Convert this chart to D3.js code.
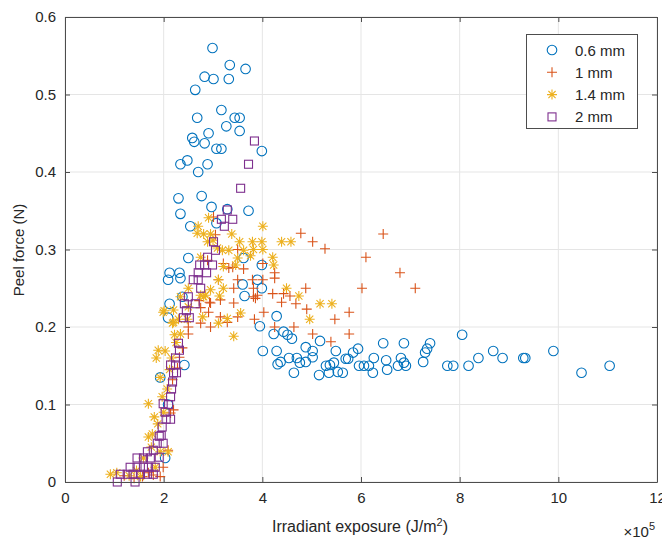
<!DOCTYPE html>
<html><head><meta charset="utf-8">
<script src="https://cdn.jsdelivr.net/npm/d3@7"></script>
<style>body{margin:0;background:#fff}svg{display:block}text{font-family:"Liberation Sans",Arial,sans-serif}</style>
</head><body><svg id="c" width="662" height="541"></svg>
<script>
// x values in units of 1e5 J/m^2, y in N
const xTicks = [0,2,4,6,8,10,12];
const yTicks = [0,0.1,0.2,0.3,0.4,0.5,0.6];
const seriesNames = ["0.6 mm","1 mm","1.4 mm","2 mm"];
const seriesColors = ["#0072BD","#D95319","#EDB120","#7E2F8E"];

const d06 = [[2.99,0.560],[3.34,0.538],[3.66,0.533],[2.83,0.523],[3.01,0.520],[3.32,0.520],[2.64,0.506],[3.17,0.480],[2.68,0.470],[3.44,0.470],[3.54,0.470],[3.27,0.459],[3.54,0.453],[2.91,0.450],[2.58,0.444],[2.62,0.439],[2.83,0.437],[3.07,0.430],[3.17,0.430],[3.99,0.427],[2.48,0.415],[2.34,0.410],[2.89,0.410],[2.70,0.400],[2.30,0.366],[2.77,0.369],
[2.34,0.346],[2.97,0.355],[3.29,0.352],[3.72,0.350],[2.54,0.330],[3.07,0.334],[2.50,0.289],[3.62,0.289],[3.99,0.280],[2.12,0.270],[2.32,0.270],[2.09,0.261],[2.34,0.263],[3.60,0.255],[3.90,0.261],[3.99,0.250],[3.64,0.240],[2.38,0.239],[2.12,0.230],[4.29,0.214],[2.09,0.212],[3.95,0.201],
[2.42,0.151],[1.93,0.135],[2.03,0.031],[2.09,0.100],
[4.23,0.191],[4.43,0.194],[4.51,0.190],[4.60,0.185],[5.17,0.182],[6.45,0.179],[6.87,0.179],[7.40,0.179],[7.34,0.172],[7.30,0.167],
[4.01,0.169],[4.29,0.169],[4.88,0.174],[5.02,0.169],[5.49,0.169],[5.94,0.172],[5.84,0.167],
[4.31,0.152],[4.37,0.155],[4.54,0.160],[4.70,0.160],[4.76,0.154],[4.88,0.155],[5.02,0.161],[5.29,0.150],[5.37,0.151],[5.45,0.154],[5.69,0.159],[5.74,0.159],[5.96,0.150],[6.06,0.150],[6.16,0.150],[6.26,0.160],[6.51,0.157],[6.75,0.150],[6.81,0.160],[6.87,0.154],[6.91,0.150],[7.26,0.155],[7.75,0.150],[7.87,0.150],
[4.64,0.141],[5.15,0.138],[5.35,0.141],[5.53,0.142],[5.63,0.141],[6.24,0.141],[6.53,0.145],
[8.05,0.190],[8.18,0.150],[8.38,0.160],[8.68,0.169],[8.87,0.160],[9.29,0.160],[9.33,0.160],[9.90,0.169],[10.47,0.141],[11.04,0.150]];

const d10 = [[4.78,0.321],[5.02,0.310],[5.27,0.301],[6.45,0.320],[6.10,0.290],[6.79,0.270],[7.10,0.250],[6.02,0.250],[4.88,0.250],[4.25,0.270],[4.25,0.263],[4.01,0.282],[4.01,0.261],[3.82,0.250],[3.82,0.239],[4.21,0.243],[4.43,0.243],[4.56,0.240],[4.39,0.232],[4.68,0.230],[4.90,0.223],[4.03,0.219],[3.84,0.210],[4.25,0.200],[4.64,0.200],[5.47,0.210],[5.76,0.219],[5.02,0.191],[5.39,0.181],[5.76,0.191],
[3.01,0.342],[3.05,0.319],[3.50,0.300],[3.82,0.300],[2.89,0.286],[3.21,0.282],[3.32,0.276],[3.62,0.275],[3.50,0.261],[3.80,0.261],[3.11,0.261],[3.42,0.250],[3.90,0.241],[2.95,0.231],[3.15,0.235],[3.42,0.231],[3.86,0.237],[2.75,0.225],[2.91,0.219],[3.15,0.213],[3.50,0.213],[2.75,0.205],[2.50,0.200],[2.95,0.200],[3.29,0.206],
[2.72,0.234],[2.93,0.232],[3.40,0.277],
[2.50,0.191],[2.38,0.173],[2.32,0.161],[2.28,0.147],[2.18,0.132],[2.20,0.093],[2.14,0.089],[2.09,0.041],[1.99,0.019],[1.79,0.009],[1.69,0.012],[1.57,0.007],[1.93,0.007],[1.40,0.005],[1.20,0.008]];

const d14 = [[4.01,0.330],[3.80,0.310],[3.99,0.310],[4.39,0.310],[4.58,0.310],[3.82,0.300],[4.01,0.300],[4.21,0.290],[4.23,0.280],[4.49,0.250],[4.74,0.240],[5.17,0.230],[5.41,0.230],[4.96,0.210],
[2.91,0.341],[2.70,0.330],[2.68,0.321],[2.81,0.320],[2.95,0.320],[3.38,0.320],[2.89,0.310],[3.54,0.310],[3.00,0.312],[3.19,0.299],[3.32,0.299],[3.62,0.299],[3.09,0.302],[2.75,0.290],[3.50,0.289],[3.76,0.292],[3.46,0.280],[3.21,0.278],[3.11,0.261],[2.50,0.250],[2.95,0.248],[3.21,0.250],[2.75,0.241],[3.13,0.240],[2.85,0.241],[2.34,0.239],[2.81,0.239],[2.01,0.221],[1.99,0.219],[2.20,0.222],[2.50,0.226],[2.20,0.206],[2.48,0.210],[2.30,0.210],[2.18,0.205],[3.29,0.211],[3.56,0.218],[3.11,0.205],[2.79,0.213],[3.42,0.188],
[2.22,0.190],[2.34,0.191],[1.89,0.170],[2.03,0.169],[1.85,0.160],[2.16,0.160],[1.93,0.135],[2.07,0.120],[1.97,0.110],[1.69,0.101],[1.81,0.084],[1.77,0.062],[1.69,0.058],[2.09,0.039],[0.92,0.010],[1.53,0.007],[1.83,0.019],[1.59,0.031],[1.93,0.039],[1.05,0.012],[1.30,0.008],[1.45,0.015],[1.75,0.045],[1.88,0.075],[2.00,0.090],[2.12,0.145],[2.25,0.180]];

const d20 = [[3.84,0.440],[3.72,0.410],[3.56,0.379],[3.29,0.351],[3.17,0.339],[3.40,0.339],[3.23,0.330],[3.01,0.310],[3.05,0.299],[2.89,0.290],[2.73,0.280],[2.83,0.280],[2.99,0.280],[2.70,0.270],[2.87,0.270],[2.60,0.261],[2.70,0.261],[2.75,0.250],[2.50,0.239],[2.42,0.230],[2.64,0.230],[2.46,0.221],[2.40,0.212],[2.52,0.212],
[2.30,0.179],[2.32,0.170],[2.14,0.151],[2.24,0.151],[2.20,0.141],[2.26,0.141],[2.18,0.129],[2.14,0.110],[1.99,0.101],[2.03,0.090],[2.14,0.081],[2.05,0.081],[1.97,0.071],[1.91,0.059],[1.87,0.050],[1.99,0.050],[1.79,0.041],[1.67,0.039],[1.91,0.032],[1.46,0.031],[1.59,0.031],[1.73,0.031],[1.32,0.019],[1.46,0.019],[1.59,0.019],[1.69,0.019],[1.83,0.019],[1.12,0.010],[1.26,0.010],[1.38,0.010],[1.53,0.010],[1.67,0.010],[1.79,0.010],[1.06,0.000],[1.42,0.000],[2.10,0.100],[2.16,0.120],[2.24,0.160],[1.95,0.060]];

const allData = [d06,d10,d14,d20];

const L=65, R=657, T=17, B=482;
const svg = d3.select("#c");
const x = d3.scaleLinear().domain([0,12]).range([L,R]);
const y = d3.scaleLinear().domain([0,0.6]).range([B,T]);

// grid
const g = svg.append("g");
g.selectAll(".gx").data(xTicks).join("line").attr("x1",d=>x(d)).attr("x2",d=>x(d)).attr("y1",T).attr("y2",B).attr("stroke","#e5e5e5").attr("stroke-width",1);
g.selectAll(".gy").data(yTicks).join("line").attr("y1",d=>y(d)).attr("y2",d=>y(d)).attr("x1",L).attr("x2",R).attr("stroke","#e5e5e5").attr("stroke-width",1);

// markers
const sym = {
  circle: (sel)=>sel.append("circle").attr("r",4.8).attr("fill","none"),
  plus: (sel)=>sel.append("path").attr("d","M-5,0H5M0,-5V5").attr("fill","none"),
  star: (sel)=>sel.append("path").attr("d","M-5,0H5M0,-5V5M-3.6,-3.6L3.6,3.6M-3.6,3.6L3.6,-3.6").attr("fill","none"),
  square: (sel)=>sel.append("rect").attr("x",-4).attr("y",-4).attr("width",8).attr("height",8).attr("fill","none")
};
const symKeys = ["circle","plus","star","square"];

allData.forEach((data,i)=>{
  const gs = svg.append("g").attr("stroke",seriesColors[i]).attr("stroke-width",1.1);
  data.forEach(d=>{
    const p = gs.append("g").attr("transform",`translate(${x(d[0])},${y(d[1])})`);
    sym[symKeys[i]](p);
  });
});

// axes (box with inward ticks)
const axCol = "#4d4d4d";
const xb = svg.append("g").attr("transform",`translate(0,${B})`).call(d3.axisBottom(x).tickValues(xTicks).tickSizeInner(-5).tickSizeOuter(0).tickPadding(10));
const xt = svg.append("g").attr("transform",`translate(0,${T})`).call(d3.axisTop(x).tickValues(xTicks).tickSizeInner(-5).tickSizeOuter(0).tickFormat(""));
const yl = svg.append("g").attr("transform",`translate(${L},0)`).call(d3.axisLeft(y).tickValues(yTicks).tickSizeInner(-5).tickSizeOuter(0).tickPadding(9).tickFormat(d=>d===0?"0":d3.format(".1f")(d)));
const yr = svg.append("g").attr("transform",`translate(${R},0)`).call(d3.axisRight(y).tickValues(yTicks).tickSizeInner(-5).tickSizeOuter(0).tickFormat(""));
[xb,xt,yl,yr].forEach(a=>{
  a.select(".domain").attr("stroke",axCol);
  a.selectAll(".tick line").attr("stroke",axCol);
  a.selectAll(".tick text").attr("fill","#262626").style("font-size","15px").style("font-family","'Liberation Sans',Arial,sans-serif");
});

// axis labels
const xl = svg.append("text").attr("x",360).attr("y",532).attr("text-anchor","middle").attr("fill","#262626").style("font-size","16px");
xl.append("tspan").text("Irradiant exposure (J/m");
xl.append("tspan").text("2").attr("dy",-6).style("font-size","11px");
xl.append("tspan").text(")").attr("dy",6);
svg.append("text").attr("transform","translate(24,250) rotate(-90)").attr("text-anchor","middle").attr("fill","#262626").style("font-size","15px").text("Peel force (N)");
const ex = svg.append("text").attr("x",655).attr("y",537).attr("text-anchor","end").attr("fill","#262626").style("font-size","15px");
ex.append("tspan").text("\u00d710");
ex.append("tspan").text("5").attr("dy",-7).style("font-size","11px");

// legend
const lg = svg.append("g");
lg.append("rect").attr("x",526.5).attr("y",34.5).attr("width",111).attr("height",94).attr("fill","#fff").attr("stroke","#4d4d4d").attr("stroke-width",1);
seriesNames.forEach((n,i)=>{
  const yy = 50 + i*22.3;
  const p = lg.append("g").attr("transform",`translate(552,${yy})`).attr("stroke",seriesColors[i]).attr("stroke-width",1.1);
  sym[symKeys[i]](p);
  lg.append("text").attr("x",575).attr("y",yy+5.5).attr("fill","#262626").style("font-size","15px").text(n);
});
</script></body></html>
